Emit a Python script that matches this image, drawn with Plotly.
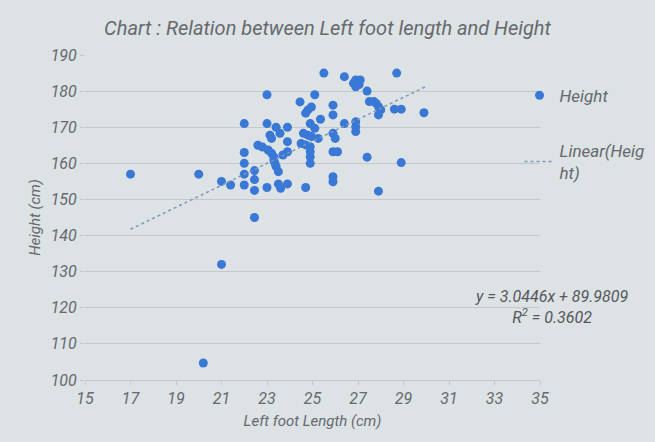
import plotly.graph_objects as go

# Left foot length (cm) and height (cm)
foot_length = [
    17, 20, 20.2, 21, 21, 21.4,
    22, 22, 22, 22, 22, 22.45, 22.45, 22.45, 22.45, 22.6, 22.8,
    23, 23, 23.05, 23, 23.13, 23.2, 23.2, 23.3, 23.3, 23.35, 23.4, 23.5,
    23.4, 23.57, 23.9, 23.9, 23.7, 23.9, 23.5, 23.6, 23.9,
    24.45, 24.95, 24.8, 24.7, 25.1, 25.5, 26.4,
    26.8, 26.9, 27.1, 26.9, 27.05, 28.7, 27.4,
    27.5, 27.7, 27.8, 27.9, 28.0, 27.9, 28.6, 28.9, 29.9,
    25.9, 25.9, 25.35, 24.9, 25.1, 26.4, 26.9, 26.9, 26.9,
    24.6, 24.8, 24.96, 25.25, 24.5, 24.7, 24.9, 24.9, 24.9, 24.9,
    25.9, 26.0, 25.9, 26.1, 27.4, 28.9, 25.9, 25.9, 27.9, 24.7,
]
height = [
    157, 157, 104.7, 155, 132, 154,
    171, 163, 160, 157, 154, 158, 155.5, 152.5, 145, 165, 164.5,
    179, 171, 163.7, 153.3, 167.8, 166.9, 162.8, 161.8, 160.9, 160, 159.1, 157.7,
    170, 168.3, 170, 166, 162.3, 163.2, 154.3, 153.1, 154.3,
    177, 175.6, 174.8, 173.9, 179, 185, 184,
    182.2, 183.1, 183.1, 181.2, 181.8, 185, 180,
    177.1, 177.1, 176.6, 175.7, 174.8, 173.4, 175, 175, 174,
    176.1, 173.4, 172.2, 171, 169.7, 171, 171.5, 170.1, 168.8,
    168.3, 167.8, 167.4, 166.9, 165.5, 165.1, 164.6, 163.2, 161.8, 160,
    168.3, 166.9, 163.2, 163.2, 161.7, 160.2, 156.3, 154.9, 152.3, 153.3,
]

# Trendline as printed on the chart
slope = 3.0446
intercept = 89.9809
r_squared = 0.3602
trend_x = [17, 30]

x_ticks = [15, 17, 19, 21, 23, 25, 27, 29, 31, 33, 35]
y_ticks = [100, 110, 120, 130, 140, 150, 160, 170, 180, 190]

title_text = "Chart : Relation between Left foot length and Height"
x_title = "Left foot Length (cm)"
y_title = "Height (cm)"

trend_y = [slope * v + intercept for v in trend_x]

FONT = "Roboto"
TXT = "#66696d"
BG = "#dde2e5"
GRID = "#c3c8cc"

fig = go.Figure()
fig.add_trace(go.Scatter(
    x=foot_length, y=height, mode="markers", name="Height",
    marker=dict(color="#3a78d6", size=9),
    legendgroup="a",
))
fig.add_trace(go.Scatter(
    x=trend_x, y=trend_y, mode="lines", name="Linear(Heig<br>ht)",
    line=dict(color="#7d97bb", width=1.5, dash="dot"),
    legendgroup="b",
))

fig.update_layout(
    width=655, height=442,
    margin=dict(l=85, r=115, t=55, b=62, autoexpand=False),
    paper_bgcolor=BG, plot_bgcolor=BG,
    font=dict(family=FONT, color=TXT, style="italic"),
    title=dict(text=title_text, x=0.5, xanchor="center", y=0.937, yanchor="middle",
               font=dict(family=FONT, size=20, color=TXT, style="italic")),
    xaxis=dict(range=[15, 35], tickvals=x_ticks, showgrid=False, zeroline=False,
               showline=True, linecolor=GRID, linewidth=1,
               ticks="outside", ticklen=4, tickcolor=GRID,
               tickfont=dict(family=FONT, size=16, color=TXT, style="italic"),
               title=dict(text=x_title, standoff=8,
                          font=dict(family=FONT, size=15, color=TXT, style="italic"))),
    yaxis=dict(range=[100, 190], tickvals=y_ticks, showgrid=True, gridcolor=GRID,
               gridwidth=1, zeroline=False, showline=False,
               ticks="outside", ticklen=4, tickcolor=GRID,
               tickfont=dict(family=FONT, size=16, color=TXT, style="italic"),
               title=dict(text=y_title, standoff=6,
                          font=dict(family=FONT, size=15, color=TXT, style="italic"))),
    legend=dict(x=0.955, y=0.93, xanchor="left", yanchor="top",
                bgcolor="rgba(0,0,0,0)", tracegroupgap=30,
                font=dict(family=FONT, size=17, color=TXT, style="italic")),
    showlegend=True,
)

fig.add_annotation(
    xref="paper", yref="paper",
    x=(551 - 85) / 455, y=(380 - 307) / 325,
    xanchor="center", yanchor="middle", align="center", showarrow=False,
    text=f"y = {slope}x + {intercept}<br>R<sup>2</sup> = {r_squared}",
    font=dict(family=FONT, size=16, color="#55585c", style="italic"),
)

fig.write_html(
    "out.html",
    config={"displayModeBar": False},
    post_script="document.body.style.margin='0';document.body.style.background='%s';" % BG,
)
